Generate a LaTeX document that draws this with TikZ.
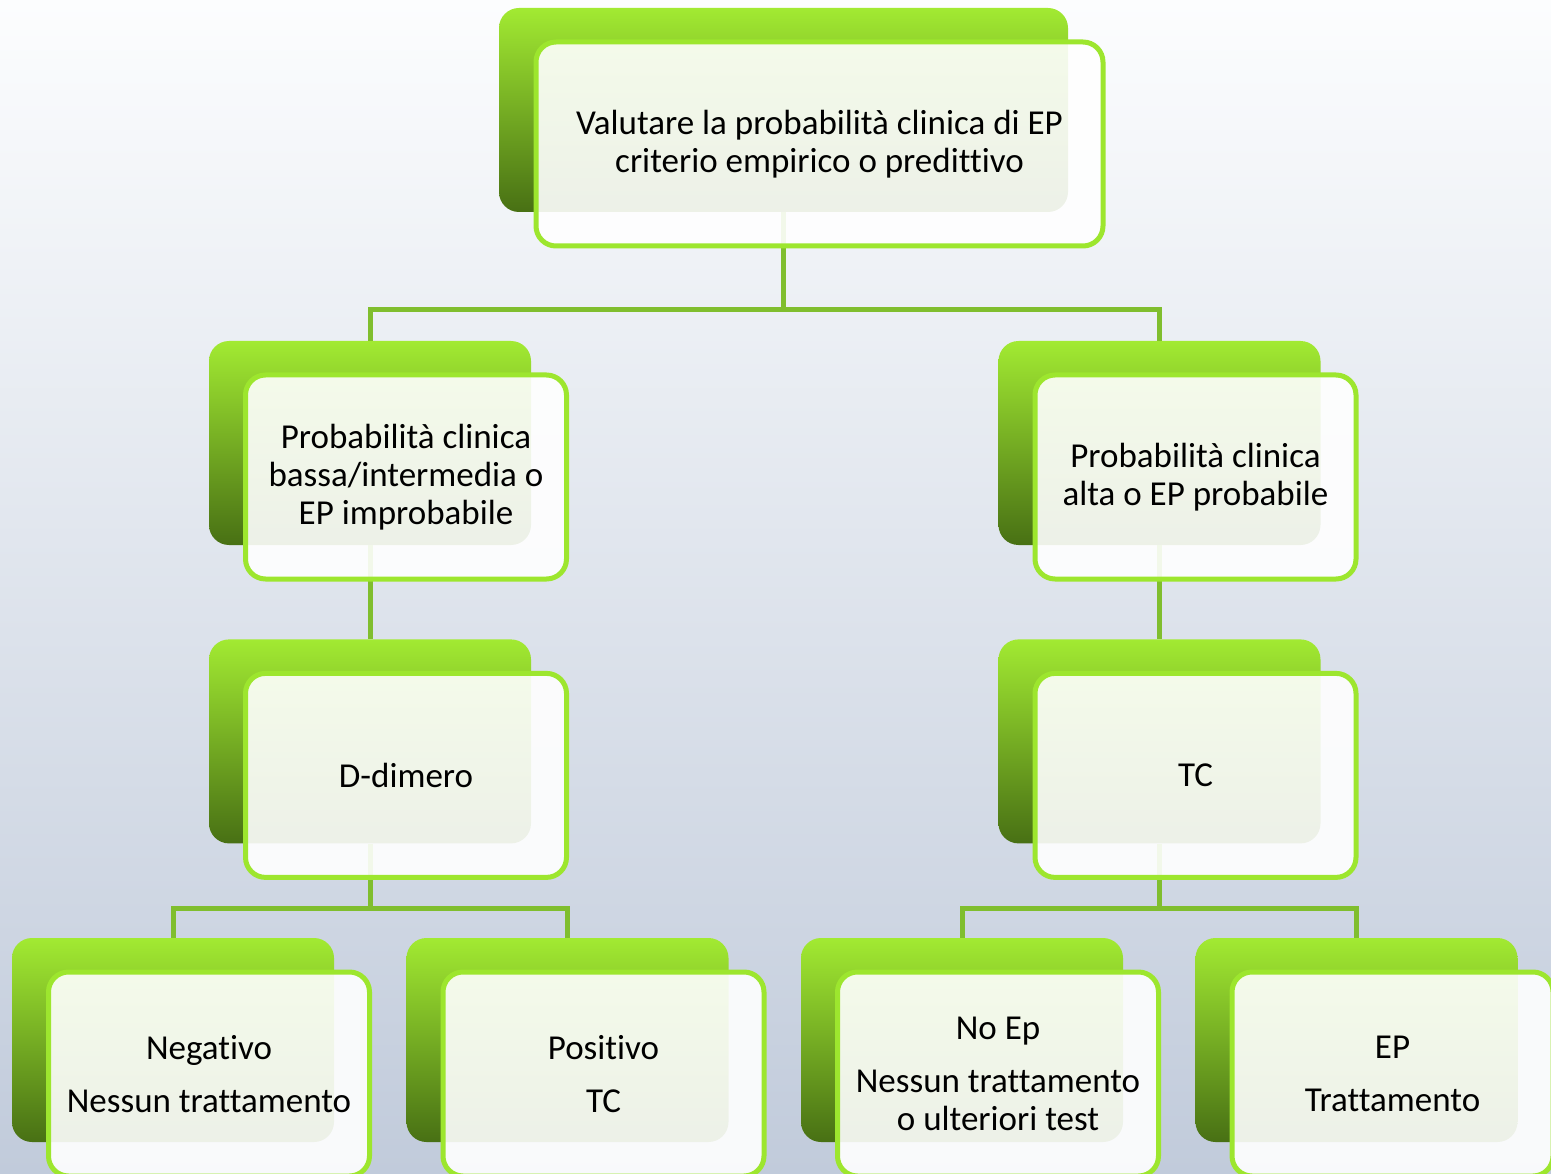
\documentclass[tikz,border=0pt]{standalone}
\usepackage{fontspec}
\setmainfont{Carlito}[Ligatures=NoCommon]
\usetikzlibrary{positioning}
\definecolor{bgtop}{RGB}{252,253,254}
\definecolor{bgbot}{RGB}{193,203,219}
\definecolor{greentop}{RGB}{162,234,50}
\definecolor{greenmid}{RGB}{128,196,38}
\definecolor{greenbot}{RGB}{72,112,20}
\definecolor{greenborder}{RGB}{157,230,46}
\definecolor{greenline}{RGB}{128,190,46}
\begin{document}
\begin{tikzpicture}[x=1pt, y=-1pt,
    backbox/.style={rectangle, rounded corners=20pt, inner sep=0pt, top color=greentop, middle color=greenmid, bottom color=greenbot, minimum width=322pt, minimum height=204pt},
    frontbox/.style={rectangle, rounded corners=20pt, draw=greenborder, line width=5pt, fill=white, fill opacity=0.9, text opacity=1, text=black, align=center, minimum width=321pt, minimum height=204pt, font=\fontsize{35}{38}\selectfont},
    link/.style={draw=greenline, line width=5pt}]
    % Sfondo
    \shade[top color=bgtop, bottom color=bgbot] (0,0) rectangle (1551,1174);
    \useasboundingbox (0,0) rectangle (1551,1174);
    \clip (0,0) rectangle (1551,1174);

    % Riquadri verdi (dietro)
    \node[backbox, minimum width=569pt] (valback) at (783.5,110) {};
    \node[backbox] (bassaback) at (370,443) {};
    \node[backbox] (altaback) at (1159.5,443) {};
    \node[backbox, below=94pt of bassaback] (ddimback) {};
    \node[backbox, below=94pt of altaback] (tcback) {};
    \node[backbox] (negback) at (173,1040) {};
    \node[backbox] (posback) at (567.5,1040) {};
    \node[backbox] (noepback) at (962,1040) {};
    \node[backbox] (epback) at (1356.5,1040) {};

    % Collegamenti
    \draw[link] (valback.south) -- ++(0,97) -| (bassaback.north);
    \draw[link] (valback.south) ++(0,97) -| (altaback.north);
    \draw[link] (bassaback.south) -- (ddimback.north);
    \draw[link] (altaback.south) -- (tcback.north);
    \draw[link] (ddimback.south) -- ++(0,65) -| (negback.north);
    \draw[link] (ddimback.south) ++(0,65) -| (posback.north);
    \draw[link] (tcback.south) -- ++(0,65) -| (noepback.north);
    \draw[link] (tcback.south) ++(0,65) -| (epback.north);

    % Riquadri chiari (davanti)
    \node[frontbox, minimum width=567pt] (val) at ([shift={(36,34)}]valback) {Valutare la probabilità clinica di EP\\criterio empirico o predittivo};
    \node[frontbox] (bassa) at ([shift={(36,34)}]bassaback) {Probabilità clinica\\bassa/intermedia o\\EP improbabile};
    \node[frontbox] (alta) at ([shift={(36,34)}]altaback) {Probabilità clinica\\alta o EP probabile};
    \node[frontbox] (ddim) at ([shift={(36,34)}]ddimback) {D-dimero};
    \node[frontbox] (tc) at ([shift={(36,34)}]tcback) {TC};
    \node[frontbox] (neg) at ([shift={(36,34)}]negback) {Negativo\\[15pt]Nessun trattamento};
    \node[frontbox] (pos) at ([shift={(36,34)}]posback) {Positivo\\[15pt]TC};
    \node[frontbox] (noep) at ([shift={(36,34)}]noepback) {No Ep\\[15pt]Nessun trattamento\\o ulteriori test};
    \node[frontbox] (ep) at ([shift={(36,34)}]epback) {EP\\[15pt]Trattamento};
\end{tikzpicture}
\end{document}
